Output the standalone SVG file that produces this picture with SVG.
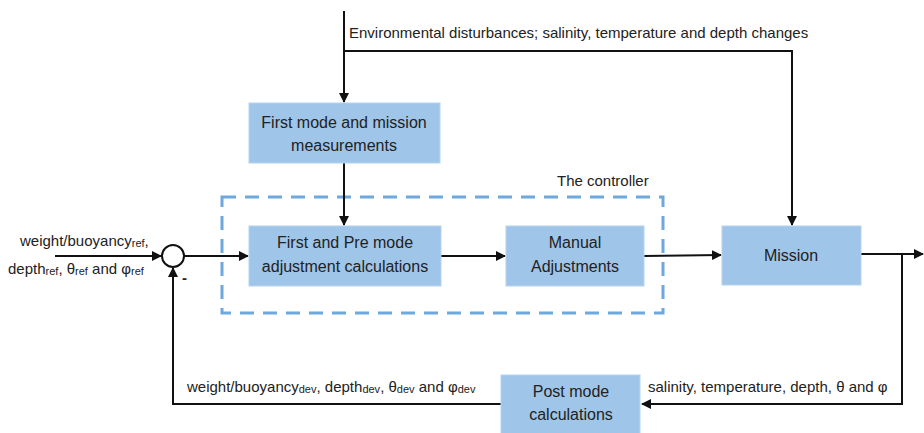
<svg xmlns="http://www.w3.org/2000/svg" width="924" height="433" viewBox="0 0 924 433">
<style>
text{font-family:"Liberation Sans",Arial,sans-serif;fill:#222;}
.box{fill:#9fc5e8;stroke:#b6d4ee;stroke-width:1;}
.bt{font-size:16px;text-anchor:middle;}
.lt{font-size:15px;}
.sub{font-size:11px;}
.ln{fill:none;stroke:#111;stroke-width:2;}
.dash{fill:none;stroke:#6fa8dc;stroke-width:3;stroke-dasharray:14,9;}
</style>
<defs>
<marker id="ah" markerWidth="10" markerHeight="10" refX="9" refY="5" orient="auto" markerUnits="userSpaceOnUse">
<path d="M0,0 L10,5 L0,10 z" fill="#111"/>
</marker>
</defs>
<g id="controller-frame">
<rect class="dash" x="222" y="197" width="441" height="116"/>
<text class="lt" x="557" y="186">The controller</text>
</g>
<g id="connectors">
<path class="ln" d="M344,11 V102" marker-end="url(#ah)"/>
<path class="ln" d="M344,51 H792 V225" marker-end="url(#ah)"/>
<path class="ln" d="M344,163 V225" marker-end="url(#ah)"/>
<path class="ln" d="M55,256 H161" marker-end="url(#ah)"/>
<path class="ln" d="M184,256 H248" marker-end="url(#ah)"/>
<path class="ln" d="M441,256 H505" marker-end="url(#ah)"/>
<path class="ln" d="M644,256 L721,255" marker-end="url(#ah)"/>
<path class="ln" d="M861,254 H923" marker-end="url(#ah)"/>
<path class="ln" d="M902,254 V404 H642" marker-end="url(#ah)"/>
<path class="ln" d="M501,404 H173 V268" marker-end="url(#ah)"/>
</g>
<g id="sum">
<circle cx="173" cy="256" r="11" fill="#fff" stroke="#111" stroke-width="2"/>
<text x="182" y="283" style="font-size:15px;font-weight:bold">-</text>
</g>
<g id="first-mode">
<rect class="box" x="249" y="103" width="191" height="60"/>
<text class="bt" x="344" y="128">First mode and mission</text>
<text class="bt" x="344" y="151">measurements</text>
</g>
<g id="pre-mode">
<rect class="box" x="249" y="226" width="192" height="60"/>
<text class="bt" x="345" y="248">First and Pre mode</text>
<text class="bt" x="345" y="272">adjustment calculations</text>
</g>
<g id="manual">
<rect class="box" x="506" y="226" width="138" height="60"/>
<text class="bt" x="575" y="248">Manual</text>
<text class="bt" x="575" y="272">Adjustments</text>
</g>
<g id="mission">
<rect class="box" x="722" y="226" width="139" height="59"/>
<text class="bt" x="791" y="261">Mission</text>
</g>
<g id="post-mode">
<rect class="box" x="501" y="375" width="139" height="60"/>
<text class="bt" x="571" y="397">Post mode</text>
<text class="bt" x="571" y="420">calculations</text>
</g>
<g id="labels">
<text class="lt" x="349" y="38">Environmental disturbances; salinity, temperature and depth changes</text>
<text class="lt" x="20" y="246">weight/buoyancy<tspan class="sub" dy="1">ref</tspan><tspan dy="-1">,</tspan></text>
<text class="lt" x="8" y="274">depth<tspan class="sub" dy="1">ref</tspan><tspan dy="-1">, θ</tspan><tspan class="sub" dy="1">ref</tspan><tspan dy="-1">  and φ</tspan><tspan class="sub" dy="1">ref</tspan></text>
<text class="lt" x="187" y="392">weight/buoyancy<tspan class="sub" dy="1">dev</tspan><tspan dy="-1">, depth</tspan><tspan class="sub" dy="1">dev</tspan><tspan dy="-1">, θ</tspan><tspan class="sub" dy="1">dev</tspan><tspan dy="-1"> and φ</tspan><tspan class="sub" dy="1">dev</tspan></text>
<text class="lt" x="648" y="392">salinity, temperature, depth, θ and φ</text>
</g>
</svg>
